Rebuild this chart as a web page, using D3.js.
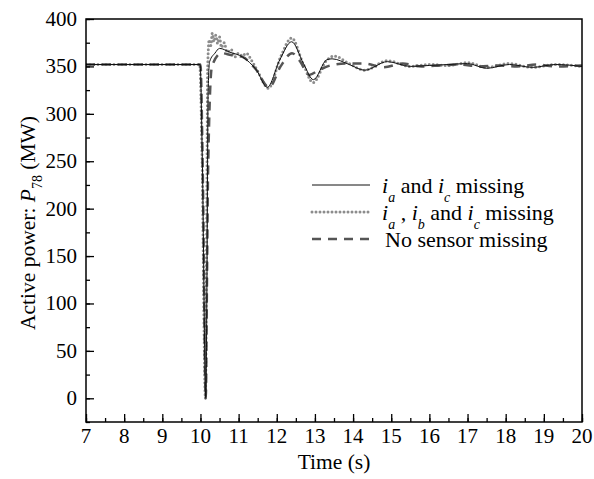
<!DOCTYPE html>
<html>
<head>
<meta charset="utf-8">
<script src="https://cdn.jsdelivr.net/npm/d3@7"></script>
<style>
  body { margin: 0; background: #fff; }
  svg text { font-family: "Liberation Serif", "Times New Roman", serif; fill: #000; }
</style>
</head>
<body>
<svg width="594" height="479"></svg>
<script>
// values
var solidT = [7, 9.99, 10.05, 10.14, 10.17, 10.2, 10.24, 10.38, 10.5, 10.77, 11.1, 11.47, 11.75, 12.08, 12.39, 12.7, 12.96, 13.31, 13.45, 13.9, 14.3, 14.9, 15.5, 16.0, 16.5, 17.0, 17.5, 18.1, 18.7, 19.3, 20];
var solidV = [352, 352, 250, 0, 120, 320, 355, 364, 369, 365, 360, 346, 328, 357, 376, 353, 336, 357, 358, 352, 346, 355, 350, 351, 352, 353, 348, 352, 349, 352, 350];

var dotT = [7, 9.98, 10.04, 10.13, 10.16, 10.19, 10.23, 10.27, 10.31, 10.35, 10.4, 10.45, 10.5, 10.55, 10.62, 10.7, 10.8, 10.9, 11.0, 11.1, 11.2, 11.33, 11.5, 11.78, 12.1, 12.39, 12.7, 12.95, 13.3, 13.5, 13.9, 14.3, 14.9, 15.5, 16, 16.5, 17, 17.5, 18.1, 18.7, 19.3, 20];
var dotV = [352, 352, 260, 0, 150, 350, 378, 372, 385, 376, 383, 374, 381, 370, 375, 365, 368, 360, 364, 361, 364, 357, 345, 327, 360, 380, 352, 333, 356, 361, 353, 346, 356, 350, 352, 351, 354, 349, 353, 349, 352, 350];

var dashT = [7, 10.0, 10.06, 10.14, 10.17, 10.2, 10.3, 10.55, 10.8, 11.1, 11.45, 11.8, 12.1, 12.4, 12.6, 12.85, 13.1, 13.4, 13.8, 14.3, 14.8, 15.3, 15.8, 16.3, 16.8, 17.3, 17.8, 18.3, 18.8, 19.3, 20];
var dashV = [352, 352, 240, 0, 120, 240, 350, 364, 362, 360, 347, 328, 350, 364, 356, 341, 346, 351, 353, 353, 349, 353, 350, 351, 352, 350, 351, 350, 352, 350, 351];

var xTicks = [7, 8, 9, 10, 11, 12, 13, 14, 15, 16, 17, 18, 19, 20];
var yTicks = [0, 50, 100, 150, 200, 250, 300, 350, 400];

var svg = d3.select("svg"),
    mLeft = 86, mRight = 582, mTop = 19, mBottom = 422;

var x = d3.scaleLinear().domain([7, 20]).range([mLeft, mRight]),
    y = d3.scaleLinear().domain([-25, 400]).range([mBottom, mTop]);

function zip(t, v) { return t.map(function(d, i) { return [d, v[i]]; }); }

var line = d3.line()
    .x(function(d) { return x(d[0]); })
    .y(function(d) { return y(d[1]); })
    .curve(d3.curveMonotoneX);

var solid = {data: zip(solidT, solidV), stroke: "#111", width: 1, dash: null, cap: "butt"},
    dotted = {data: zip(dotT, dotV), stroke: "#8c8c8c", width: 3, dash: "0,4", cap: "round"},
    dashed = {data: zip(dashT, dashV), stroke: "#555", width: 2.5, dash: "9,7", cap: "butt"};

svg.append("defs").append("clipPath").attr("id", "clip")
  .append("rect").attr("x", mLeft).attr("y", mTop).attr("width", mRight - mLeft).attr("height", mBottom - mTop);

svg.append("g").attr("clip-path", "url(#clip)")
  .selectAll("path")
    .data([dotted, dashed, solid])
  .enter().append("path")
    .attr("d", function(d) { return line(d.data); })
    .attr("fill", "none")
    .attr("stroke", function(d) { return d.stroke; })
    .attr("stroke-width", function(d) { return d.width; })
    .attr("stroke-dasharray", function(d) { return d.dash; })
    .attr("stroke-linecap", function(d) { return d.cap; });

// axes, ticks pointing inward
svg.append("g").attr("transform", "translate(0," + mBottom + ")")
  .call(d3.axisTop(x).tickValues(d3.range(7, 20.01, 0.5)).tickSize(4).tickFormat(""));
svg.append("g").attr("transform", "translate(0," + mBottom + ")")
  .call(d3.axisTop(x).tickValues(xTicks).tickSize(8).tickFormat(""));
svg.append("g").attr("transform", "translate(" + mLeft + ",0)")
  .call(d3.axisRight(y).tickValues(d3.range(-25, 400.1, 25)).tickSize(4).tickFormat(""));
svg.append("g").attr("transform", "translate(" + mLeft + ",0)")
  .call(d3.axisRight(y).tickValues(yTicks).tickSize(8).tickFormat(""));

svg.selectAll(".domain").remove();
svg.selectAll(".tick line").attr("stroke", "#000").attr("stroke-width", 1.3);

svg.append("rect")
    .attr("x", mLeft).attr("y", mTop)
    .attr("width", mRight - mLeft).attr("height", mBottom - mTop)
    .attr("fill", "none").attr("stroke", "#000").attr("stroke-width", 1.5);

svg.selectAll(".xlab").data(xTicks).enter().append("text")
    .attr("x", function(d) { return x(d); })
    .attr("y", 443)
    .attr("text-anchor", "middle")
    .style("font-size", "21px")
    .text(function(d) { return d; });

svg.selectAll(".ylab").data(yTicks).enter().append("text")
    .attr("x", 77)
    .attr("y", function(d) { return y(d) + 7; })
    .attr("text-anchor", "end")
    .style("font-size", "21px")
    .text(function(d) { return d; });

svg.append("text")
    .attr("x", (mLeft + mRight) / 2)
    .attr("y", 469)
    .attr("text-anchor", "middle")
    .style("font-size", "21.5px")
    .text("Time (s)");

var yt = svg.append("text")
    .attr("transform", "translate(35,223)rotate(-90)")
    .attr("text-anchor", "middle")
    .style("font-size", "21.5px");
yt.append("tspan").text("Active power: ");
yt.append("tspan").style("font-style", "italic").text("P");
yt.append("tspan").attr("dy", 7).style("font-size", "14px").text("78");
yt.append("tspan").attr("dy", -7).text(" (MW)");

// legend
var legendRows = [
  {s: solid, y: 185, parts: [["i", "it"], ["a", "sub"], [" and ", ""], ["i", "it"], ["c", "sub"], [" missing", ""]]},
  {s: dotted, y: 212, parts: [["i", "it"], ["a", "sub"], [" , ", ""], ["i", "it"], ["b", "sub"], [" and ", ""], ["i", "it"], ["c", "sub"], [" missing", ""]]},
  {s: dashed, y: 239, parts: [["No sensor missing", ""]]}
];

var legend = svg.append("g");
legend.selectAll("line").data(legendRows).enter().append("line")
    .attr("x1", 312).attr("x2", 370)
    .attr("y1", function(d) { return d.y; })
    .attr("y2", function(d) { return d.y; })
    .attr("stroke", function(d) { return d.s.stroke; })
    .attr("stroke-width", function(d) { return d.s.width; })
    .attr("stroke-dasharray", function(d) { return d.s.dash; })
    .attr("stroke-linecap", function(d) { return d.s.cap; });

legendRows.forEach(function(r, i) {
  var t = legend.append("text")
      .attr("x", i == 2 ? 385 : 382)
      .attr("y", r.y + 8)
      .style("font-size", "22px");
  var down = false;
  r.parts.forEach(function(p) {
    var s = t.append("tspan").text(p[0]);
    if (p[1] == "it") s.style("font-style", "italic");
    if (p[1] == "sub") { s.attr("dy", 9).style("font-size", "14px").style("font-style", "italic"); down = true; }
    else if (down) { s.attr("dy", -9); down = false; }
  });
});
</script>
</body>
</html>
